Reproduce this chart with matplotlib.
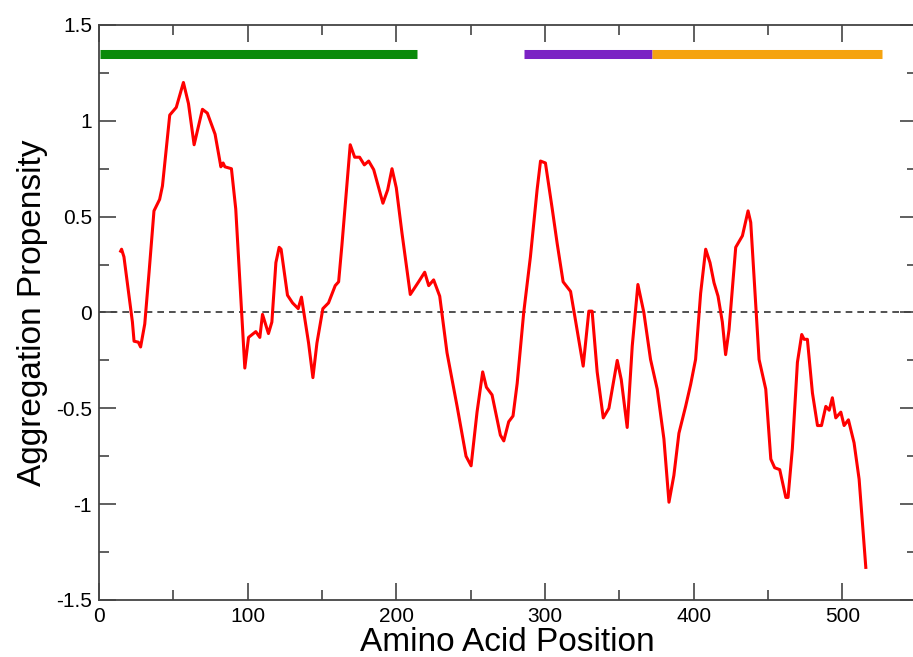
"""
Aggregation propensity profile along the amino-acid sequence
"""
import matplotlib
matplotlib.use("Agg")
import matplotlib.pyplot as plt
from matplotlib.ticker import MultipleLocator

# profile (position, propensity)
position = [14.6, 15.2, 16.8, 22.5, 23.6, 26.5, 28.0, 30.8, 33.7, 37.0,
            40.8, 42.7, 47.6, 52.0, 56.8, 60.2, 64.0, 69.6, 72.9, 78.1,
            82.0, 83.5, 84.7, 89.1, 92.0, 98.1, 100.6, 105.5, 108.2, 110.0,
            114.0, 116.3, 119.0, 121.2, 122.5, 126.8, 130.2, 134.0, 136.2, 141.0,
            143.9, 146.6, 150.6, 154.4, 158.9, 161.2, 163.4, 169.0, 172.0, 175.3,
            178.5, 181.4, 184.8, 191.0, 194.2, 197.1, 200.0, 203.8, 209.4, 215.0,
            219.1, 221.8, 225.1, 229.2, 234.1, 240.9, 246.9, 250.3, 254.3, 258.1,
            260.6, 264.4, 270.0, 272.3, 275.6, 278.5, 281.3, 285.7, 290.2, 294.7,
            297.0, 300.3, 304.8, 308.2, 312.2, 317.2, 320.5, 325.7, 329.5, 331.7,
            335.1, 339.2, 343.0, 348.6, 351.3, 355.3, 358.7, 362.5, 366.5, 371.0,
            375.5, 380.0, 383.4, 386.7, 390.1, 394.6, 398.0, 401.3, 404.7, 408.1,
            411.0, 413.7, 416.4, 419.3, 421.5, 423.8, 426.0, 428.3, 432.8, 436.6,
            438.4, 440.6, 444.0, 448.5, 451.9, 454.5, 457.9, 462.0, 463.5, 466.4,
            469.8, 472.7, 474.3, 476.5, 479.9, 483.3, 486.0, 488.9, 491.2, 493.3,
            495.6, 499.0, 501.2, 504.1, 507.9, 511.3, 515.8]
propensity = [0.32, 0.33, 0.29, -0.05, -0.15, -0.155, -0.18, -0.06, 0.21, 0.53,
              0.59, 0.66, 1.03, 1.07, 1.20, 1.09, 0.875, 1.06, 1.04, 0.93,
              0.76, 0.78, 0.76, 0.75, 0.54, -0.29, -0.13, -0.10, -0.13, -0.01,
              -0.11, -0.05, 0.26, 0.34, 0.33, 0.09, 0.05, 0.02, 0.08, -0.16,
              -0.34, -0.16, 0.02, 0.05, 0.14, 0.16, 0.35, 0.875, 0.81, 0.81,
              0.77, 0.79, 0.745, 0.57, 0.64, 0.75, 0.65, 0.415, 0.094, 0.16,
              0.21, 0.14, 0.17, 0.085, -0.21, -0.49, -0.75, -0.80, -0.52, -0.31,
              -0.39, -0.43, -0.64, -0.67, -0.57, -0.54, -0.37, 0.0, 0.29, 0.64,
              0.79, 0.78, 0.545, 0.36, 0.16, 0.11, -0.04, -0.28, 0.007, 0.007,
              -0.31, -0.55, -0.50, -0.25, -0.35, -0.60, -0.175, 0.146, 0.0, -0.245,
              -0.40, -0.66, -0.99, -0.85, -0.63, -0.49, -0.375, -0.245, 0.10, 0.33,
              0.26, 0.155, 0.085, -0.05, -0.22, -0.09, 0.12, 0.34, 0.40, 0.53,
              0.47, 0.19, -0.245, -0.40, -0.765, -0.81, -0.82, -0.965, -0.965, -0.71,
              -0.26, -0.115, -0.14, -0.14, -0.42, -0.59, -0.59, -0.49, -0.51, -0.445,
              -0.55, -0.52, -0.59, -0.56, -0.68, -0.87, -1.33]

# domain bars along the top
domain_start = [1, 286, 372]
domain_end = [214, 372, 527]
domain_colors = ["#0a8a0a", "#7b22c4", "#f5a30f"]
domain_level = 1.35

plt.rcParams["font.family"] = ["Liberation Sans", "DejaVu Sans"]

fig = plt.figure(figsize=(9.13, 6.57), dpi=100)
ax = fig.add_axes([0.1084, 0.0868, 0.8956, 0.8752])

ax.axhline(0, color="#333333", linestyle=(0, (4, 3)), linewidth=1.2, zorder=1)
ax.plot(position, propensity, color="#ff0000", linewidth=2.2, zorder=3)

for s, e, c in zip(domain_start, domain_end, domain_colors):
    ax.plot([s, e], [domain_level, domain_level], color=c, linewidth=6.5,
            solid_capstyle="butt", zorder=2)

ax.set_xlim(0, 550)
ax.set_ylim(-1.5, 1.5)
ax.xaxis.set_major_locator(MultipleLocator(100))
ax.xaxis.set_minor_locator(MultipleLocator(50))
ax.yaxis.set_major_locator(MultipleLocator(0.5))
ax.yaxis.set_minor_locator(MultipleLocator(0.25))
ax.set_yticks([-1.5, -1, -0.5, 0, 0.5, 1, 1.5])
ax.set_yticklabels(["-1.5", "-1", "-0.5", "0", "0.5", "1", "1.5"])

ax.tick_params(which="both", direction="in", top=True, right=True,
               color="#444444", labelsize=15, width=1.2)
ax.tick_params(which="major", length=12, pad=5)
ax.tick_params(which="minor", length=7)
for sp in ax.spines.values():
    sp.set_color("#444444")
    sp.set_linewidth(1.3)

ax.set_xlabel("Amino Acid Position", fontsize=24, labelpad=1)
ax.set_ylabel("Aggregation Propensity", fontsize=24, labelpad=6)

fig.savefig("out.png", dpi=100)
